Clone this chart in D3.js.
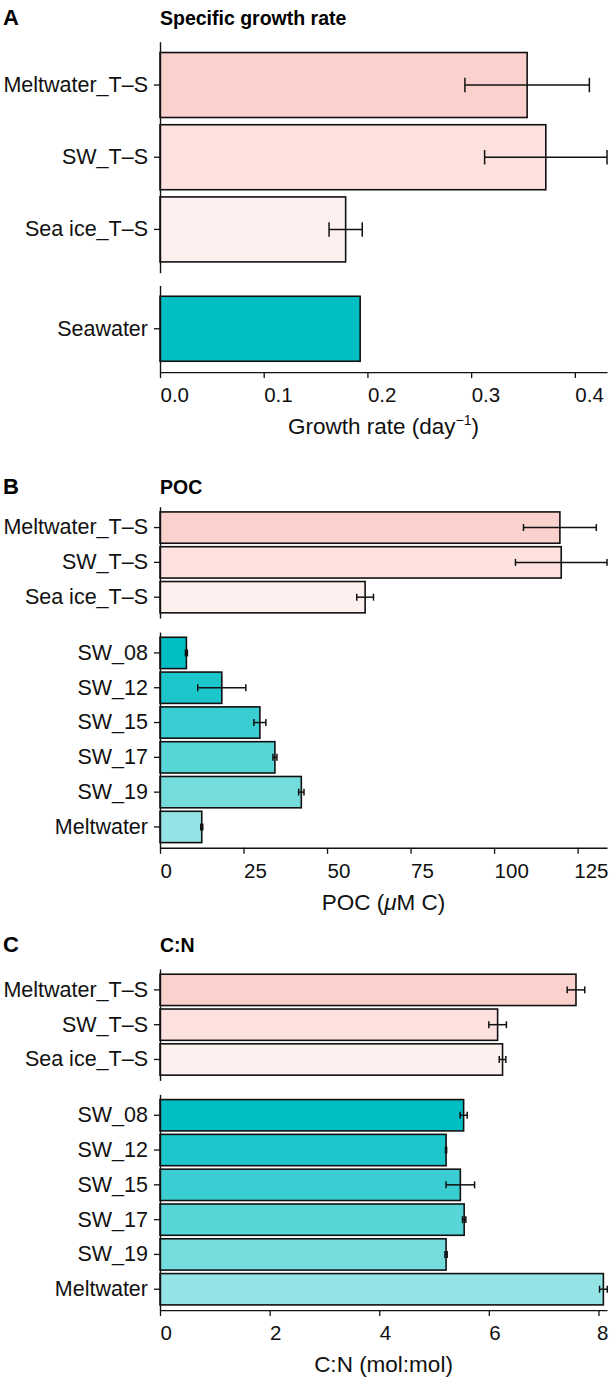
<!DOCTYPE html>
<html>
<head>
<meta charset="utf-8">
<script src="https://cdn.jsdelivr.net/npm/d3@7"></script>
<style>
  body { margin: 0; background: #fff; }
  svg { font-family: "Liberation Sans", Arial, Helvetica, sans-serif; }
</style>
</head>
<body>
<svg id="chart" width="610" height="1379"></svg>
<script>
// categories
let tsCats = ["Meltwater_T\u2013S", "SW_T\u2013S", "Sea ice_T\u2013S"];
let seawaterCats = ["Seawater"];
let swCats = ["SW_08", "SW_12", "SW_15", "SW_17", "SW_19", "Meltwater"];

// A: specific growth rate
let growthTS = [0.354, 0.372, 0.179];
let growthTSErr = [0.060, 0.059, 0.016];
let growthSeawater = [0.193];
let growthTicks = [0, 0.1, 0.2, 0.3, 0.4];

// B: POC
let pocTS = [119.7, 120.1, 61.4];
let pocTSErr = [10.9, 13.7, 2.5];
let pocSW = [7.9, 18.5, 29.9, 34.4, 42.3, 12.5];
let pocSWErr = [0.3, 7.2, 1.8, 0.6, 0.8, 0.3];
let pocTicks = [0, 25, 50, 75, 100, 125];

// C: C:N
let cnTS = [7.59, 6.16, 6.25];
let cnTSErr = [0.16, 0.16, 0.06];
let cnSW = [5.54, 5.22, 5.48, 5.55, 5.22, 8.09];
let cnSWErr = [0.065, 0.01, 0.26, 0.03, 0.02, 0.07];
let cnTicks = [0, 2, 4, 6, 8];

let tsColors = ["#fad1cd", "#fde1de", "#fef0ee"];
let seawaterColors = ["#00bfc4"];
let swColors = ["#00bfc4", "#1dc6cb", "#3acdd1", "#57d5d7", "#75dcdd", "#94e4e5"];

let svg = d3.select("#chart");
let left = 160, right = 607;
let labelSize = 21.5;

let makeRows = (cats, vals, errs, colors) =>
  cats.map((c, i) => ({ cat: c, val: vals[i], err: errs ? errs[i] : null, color: colors[i] }));

let drawFacet = (g, rows, xScale, y0, step) => {
  let n = rows.length;
  let y1 = y0 + step * (n + 0.2);
  let yScale = d3.scaleBand()
    .domain(rows.map(d => d.cat))
    .range([y0, y1])
    .paddingInner(0.1)
    .paddingOuter(0.15);

  g.selectAll(null)
    .data(rows)
    .enter()
    .append("rect")
    .attr("x", xScale(0))
    .attr("y", d => yScale(d.cat))
    .attr("width", d => xScale(d.val) - xScale(0))
    .attr("height", yScale.bandwidth())
    .attr("fill", d => d.color)
    .attr("stroke", "#111")
    .attr("stroke-width", 1.6);

  let errRows = rows.filter(d => d.err !== null);
  let cap = step * 0.1;
  errRows.forEach(d => {
    let cy = yScale(d.cat) + yScale.bandwidth() / 2;
    let eg = g.append("g").attr("stroke", "#111").attr("stroke-width", 1.5);
    eg.append("line")
      .attr("x1", xScale(d.val - d.err)).attr("x2", xScale(d.val + d.err))
      .attr("y1", cy).attr("y2", cy);
    eg.append("line")
      .attr("x1", xScale(d.val - d.err)).attr("x2", xScale(d.val - d.err))
      .attr("y1", cy - cap).attr("y2", cy + cap);
    eg.append("line")
      .attr("x1", xScale(d.val + d.err)).attr("x2", xScale(d.val + d.err))
      .attr("y1", cy - cap).attr("y2", cy + cap);
  });

  let yAxis = d3.axisLeft(yScale).tickSize(6).tickPadding(6).tickSizeOuter(0);
  let ya = g.append("g")
    .attr("transform", "translate(" + left + ",0)")
    .call(yAxis);
  ya.select(".domain").attr("stroke", "#111").attr("stroke-width", 1.4);
  ya.selectAll(".tick line").attr("stroke", "#111").attr("stroke-width", 1.3);
  ya.selectAll(".tick text").attr("font-size", labelSize).attr("fill", "#111");

  return y1;
};

let drawPanel = (cfg) => {
  let g = svg.append("g");
  let xScale = d3.scaleLinear().domain([0, cfg.xMax]).range([left, right]);

  g.append("text").attr("x", 3).attr("y", cfg.titleY)
    .attr("font-size", 22).attr("font-weight", "bold").text(cfg.letter);
  g.append("text").attr("x", left).attr("y", cfg.titleY)
    .attr("font-size", 19.5).attr("font-weight", "bold").text(cfg.title);

  let topRows = makeRows(tsCats, cfg.tsVals, cfg.tsErr, tsColors);
  let end1 = drawFacet(g, topRows, xScale, cfg.y0, cfg.step);
  let y2 = end1 + cfg.gap;
  let botRows = makeRows(cfg.botCats, cfg.botVals, cfg.botErr, cfg.botColors);
  let end2 = drawFacet(g, botRows, xScale, y2, cfg.step);

  let xAxis = d3.axisBottom(xScale).tickValues(cfg.ticks).tickFormat(cfg.fmt)
    .tickSize(6).tickSizeOuter(0);
  let xa = g.append("g")
    .attr("transform", "translate(0," + end2 + ")")
    .call(xAxis);
  xa.select(".domain").attr("stroke", "#111").attr("stroke-width", 1.4);
  xa.selectAll(".tick line").attr("stroke", "#111").attr("stroke-width", 1.3);
  xa.selectAll(".tick text")
    .attr("font-size", 20.5).attr("fill", "#111")
    .attr("text-anchor", "start").attr("dy", null).attr("y", 30)
    .each(function (d) {
      // keep the last label inside the page edge
      let w = this.getComputedTextLength();
      let over = xScale(d) + w - 608;
      if (over > 0) d3.select(this).attr("x", -over);
    });

  let t = g.append("text")
    .attr("x", (left + right) / 2).attr("y", end2 + 62)
    .attr("text-anchor", "middle").attr("font-size", 22.5).attr("fill", "#111");
  cfg.axisTitle(t);
};

drawPanel({
  letter: "A", title: "Specific growth rate", titleY: 25,
  y0: 41.7, step: 72.2, gap: 12.7,
  xMax: 0.431, ticks: growthTicks, fmt: d3.format(".1f"),
  tsVals: growthTS, tsErr: growthTSErr,
  botCats: seawaterCats, botVals: growthSeawater, botErr: null, botColors: seawaterColors,
  axisTitle: t => {
    t.append("tspan").text("Growth rate (day");
    t.append("tspan").attr("dy", -9).attr("font-size", 14).text("\u22121");
    t.append("tspan").attr("dy", 9).text(")");
  }
});

drawPanel({
  letter: "B", title: "POC", titleY: 494,
  y0: 506.7, step: 34.8, gap: 14,
  xMax: 133.8, ticks: pocTicks, fmt: d3.format("d"),
  tsVals: pocTS, tsErr: pocTSErr,
  botCats: swCats, botVals: pocSW, botErr: pocSWErr, botColors: swColors,
  axisTitle: t => {
    t.append("tspan").text("POC (");
    t.append("tspan").attr("font-style", "italic").text("\u03bc");
    t.append("tspan").text("M C)");
  }
});

drawPanel({
  letter: "C", title: "C:N", titleY: 952,
  y0: 969, step: 34.8, gap: 14,
  xMax: 8.156, ticks: cnTicks, fmt: d3.format("d"),
  tsVals: cnTS, tsErr: cnTSErr,
  botCats: swCats, botVals: cnSW, botErr: cnSWErr, botColors: swColors,
  axisTitle: t => { t.text("C:N (mol:mol)"); }
});
</script>
</body>
</html>
